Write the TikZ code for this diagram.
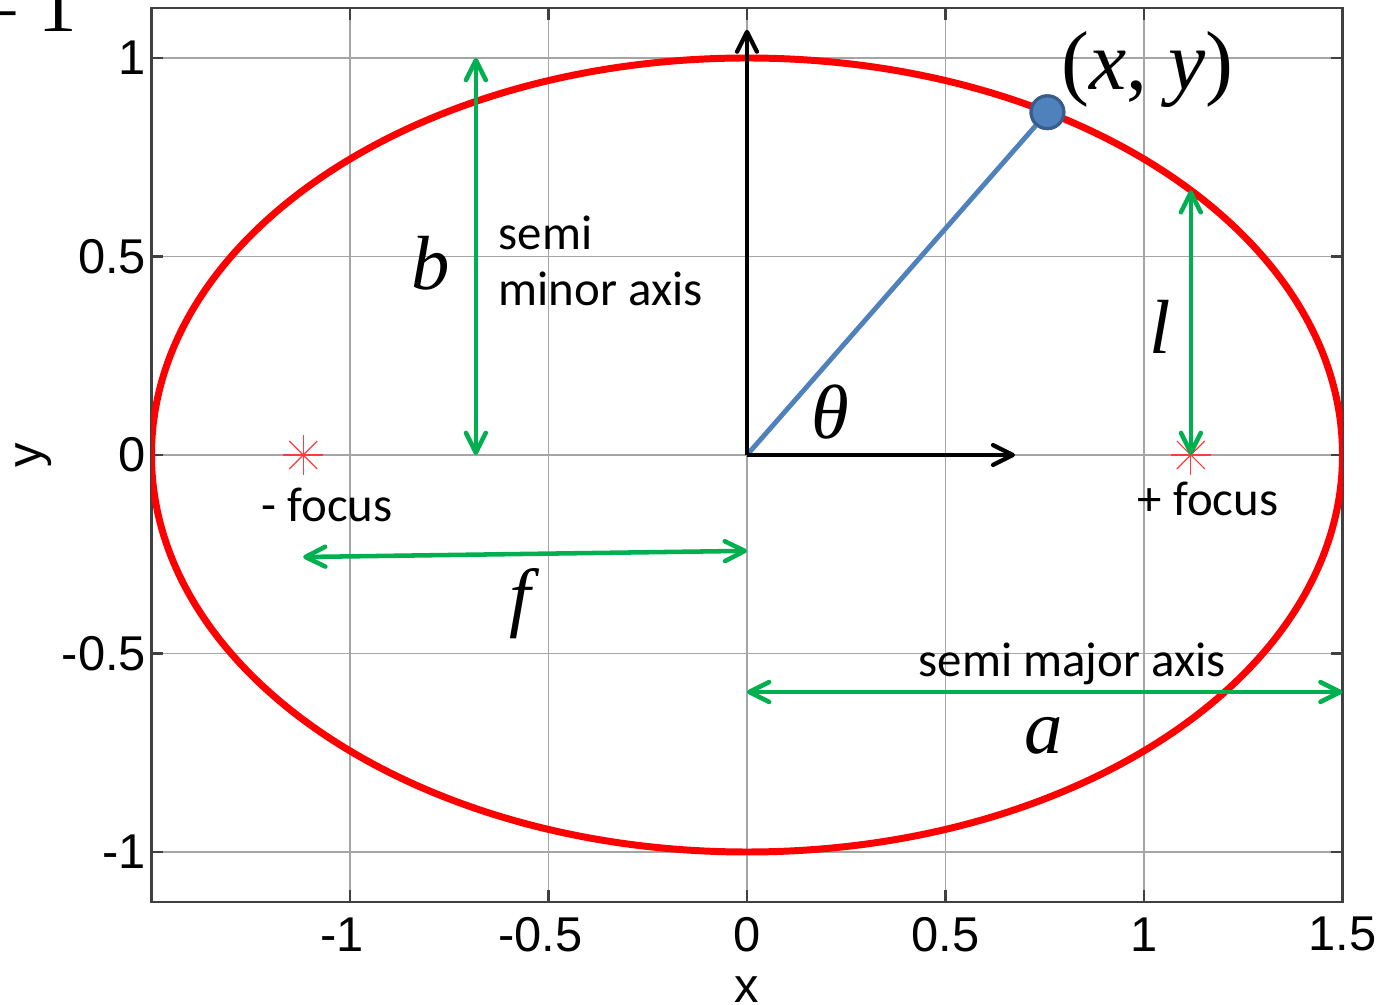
\documentclass[tikz,border=0pt]{standalone}
\usepackage{fontspec}
\setmainfont{Liberation Serif}
\newfontfamily\tickfont{Liberation Sans}
\newfontfamily\notefont{Carlito}
\usetikzlibrary{arrows.meta}

\begin{document}
\begin{tikzpicture}[
    x=4cm, y=4cm,
    every node/.style={inner sep=0pt},
    gridline/.style={
        line width=0.4pt,
        color={rgb,255:red,165;green,165;blue,165}
    },
    frame/.style={
        line width=0.6pt,
        color={rgb,255:red,64;green,64;blue,64}
    },
    ticklab/.style={font=\tickfont\fontsize{14}{16}\selectfont},
    orbit/.style={
        line width=2pt,
        color={rgb,255:red,255;green,0;blue,0}
    },
    radial/.style={
        line width=1.4pt,
        color={rgb,255:red,79;green,129;blue,189}
    },
    pointdot/.style={
        circle, minimum size=0.33cm,
        fill={rgb,255:red,79;green,129;blue,189},
        draw={rgb,255:red,56;green,93;blue,138},
        line width=0.9pt
    },
    axisarr/.style={
        -{Straight Barb[length=2mm,width=2mm,round]},
        line width=1.2pt, color=black
    },
    dimarr/.style={
        {Straight Barb[length=2mm,width=2mm,round]}-{Straight Barb[length=2mm,width=2mm,round]},
        line width=1.3pt,
        color={rgb,255:red,0;green,176;blue,80}
    },
    focusmark/.style={
        line width=0.35pt,
        color={rgb,255:red,255;green,60;blue,60}
    },
    sym/.style={font=\fontsize{22}{26}\selectfont\itshape},
    note/.style={font=\notefont\fontsize{14}{16.3}\selectfont, align=left}
]

\useasboundingbox (-1.8816,-1.3829) rectangle (1.6196,1.1461);

%% ── Grid, frame and ticks ───────────────────────────────────────────
\draw[gridline]
    (-1,-1.125) -- (-1,1.125)   (-0.5,-1.125) -- (-0.5,1.125)
    (0,-1.125) -- (0,1.125)     (0.5,-1.125) -- (0.5,1.125)
    (1,-1.125) -- (1,1.125)
    (-1.5,-1) -- (1.5,-1)       (-1.5,-0.5) -- (1.5,-0.5)
    (-1.5,0) -- (1.5,0)         (-1.5,0.5) -- (1.5,0.5)
    (-1.5,1) -- (1.5,1);

\draw[frame] (-1.5,-1.125) rectangle (1.5,1.125);

\foreach \tx in {-1,-0.5,0,0.5,1}
    \draw[frame] (\tx,-1.125) -- ++(0,0.03) (\tx,1.125) -- ++(0,-0.03);
\foreach \ty in {-1,-0.5,0,0.5,1}
    \draw[frame] (-1.5,\ty) -- ++(0.03,0) (1.5,\ty) -- ++(-0.03,0);

%% ── Tick labels ─────────────────────────────────────────────────────
\node[ticklab, anchor=east] (ty1)  at (-1.512, 1)    {1};
\node[ticklab, anchor=east] (ty2)  at (-1.512, 0.5)  {0.5};
\node[ticklab, anchor=east] (ty3)  at (-1.512, 0)    {0};
\node[ticklab, anchor=east] (ty4)  at (-1.512, -0.5) {-0.5};
\node[ticklab, anchor=east] (ty5)  at (-1.512, -1)   {-1};

\node[ticklab] (tx1) at (-1.02, -1.2075) {-1};
\node[ticklab] (tx2) at (-0.52, -1.2075) {-0.5};
\node[ticklab] (tx3) at (0,     -1.2075) {0};
\node[ticklab] (tx4) at (0.5,   -1.2075) {0.5};
\node[ticklab] (tx5) at (1,     -1.2075) {1};
\node[ticklab] (tx6) at (1.5,   -1.2075) {1.5};

\node[ticklab] (xlab) at (0, -1.3476) {x};
\node[ticklab, rotate=90] (ylab) at (-1.796, 0) {y};

\node[font=\fontsize{22}{26}\selectfont, anchor=base east] (eqone)
    at (-1.685, 1.0655) {= 1};

%% ── Ellipse ─────────────────────────────────────────────────────────
\coordinate (o)  at (0, 0);
\coordinate (fl) at (-1.118, 0);
\coordinate (fr) at (1.118, 0);

\begin{scope}
    \clip (-1.5,-1.125) rectangle (1.5,1.125);
    \draw[orbit] (o) ellipse [x radius=1.5, y radius=1];
\end{scope}

%% ── Point on the ellipse and axes ───────────────────────────────────
\node[pointdot] (pt) at ({1.5*cos(59.7)}, {sin(59.7)}) {};
\coordinate (ytip) at (0, 1.071);
\coordinate (xtip) at (0.675, 0);

\draw[radial]  (o) -- (pt);
\draw[axisarr] (o) -- (ytip);
\draw[axisarr] (o) -- (xtip);
\node[pointdot] at (pt) {};

%% ── Dimension arrows ────────────────────────────────────────────────
\coordinate (b0) at (-0.683, 0);
\coordinate (b1) at (-0.683, 1);
\coordinate (l1) at (1.118, 0.667);
\coordinate (f0) at (-1.118, -0.257);
\coordinate (f1) at (0, -0.2415);
\coordinate (a0) at (0, -0.597);
\coordinate (a1) at (1.5, -0.597);

\foreach \ang in {0,45,...,315} {
    \draw[focusmark] (fl) -- ++(\ang:0.05);
    \draw[focusmark] (fr) -- ++(\ang:0.05);
}

\draw[dimarr] (b0) -- (b1);
\draw[dimarr] (fr) -- (l1);
\draw[dimarr] (f0) -- (f1);
\draw[dimarr] (a0) -- (a1);

%% ── Labels ──────────────────────────────────────────────────────────
\node[sym, font=\fontsize{24}{28}\selectfont\itshape] (lxy)
    at (1.008, 0.972) {\upshape(\textit{x}, \textit{y})};
\node[sym] (lb)     at (-0.798, 0.484) {b};
\node[sym] (ll)     at (1.040, 0.322)  {l};
\node[sym] (ltheta) at (0.209, 0.108)  {θ};
\node[sym] (lf)     at (-0.572, -0.375) {f};
\node[sym] (la)     at (0.748, -0.708) {a};

\node[note, anchor=west] (lminor) at (-0.627, 0.489) {semi\\minor axis};
\node[note] (lfocl)  at (-1.058, -0.127) {- focus};
\node[note] (lfocr)  at (1.161, -0.110)  {+ focus};
\node[note] (lmajor) at (0.819, -0.526)  {semi major axis};

\end{tikzpicture}
\end{document}
